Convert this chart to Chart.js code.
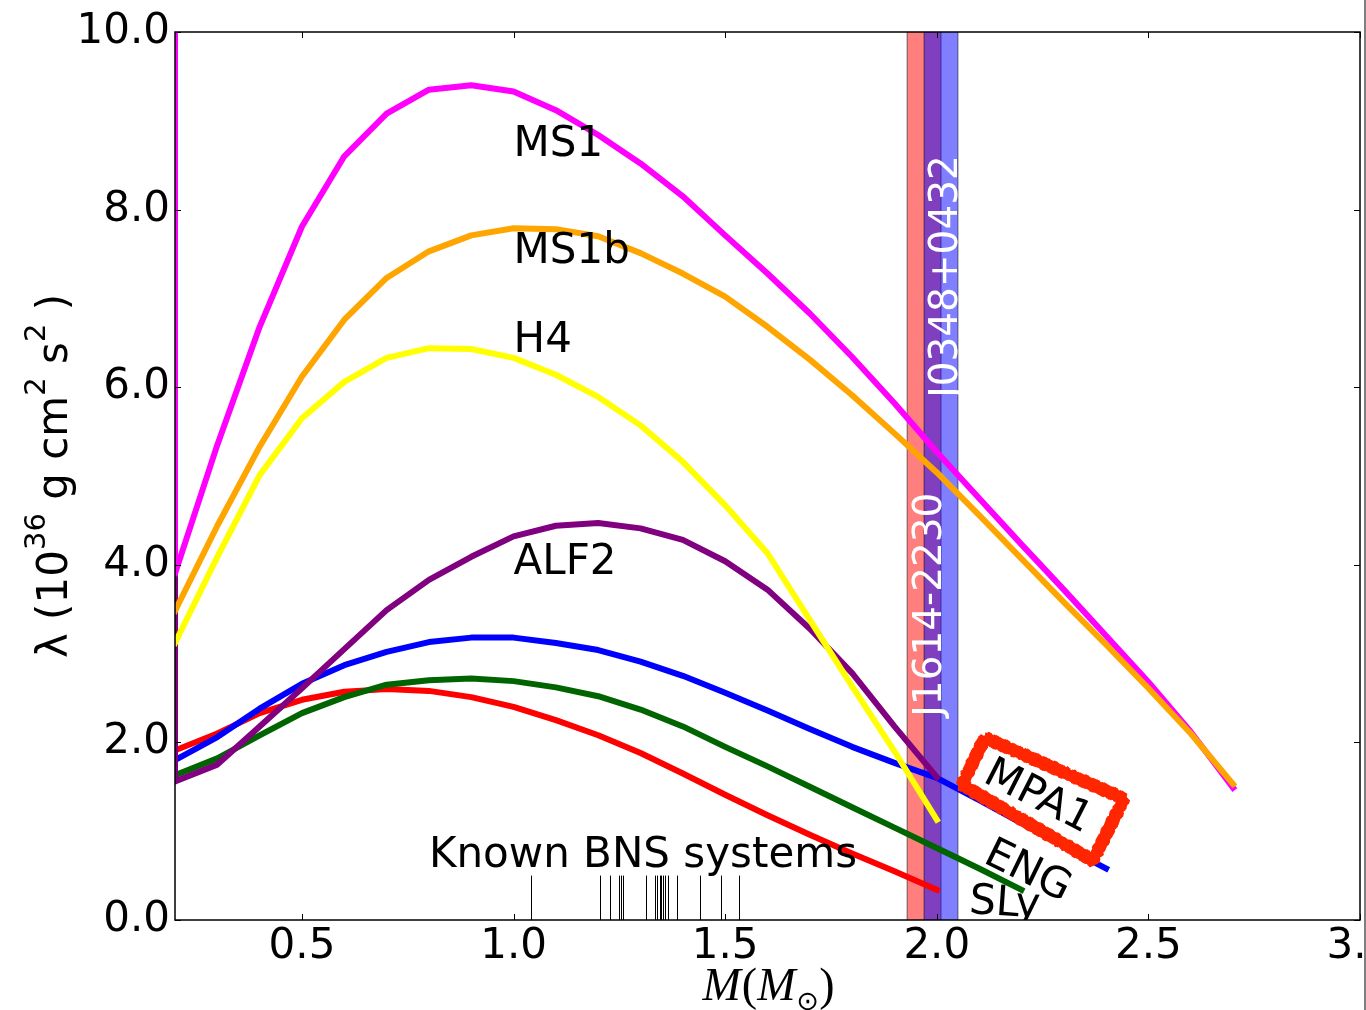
<!DOCTYPE html>
<html>
<head>
<meta charset="utf-8">
<script src="https://cdn.jsdelivr.net/npm/chart.js@4.4.0/dist/chart.umd.min.js"></script>
<style>
  html, body { margin: 0; padding: 0; background: #fff; overflow: hidden; }
</style>
</head>
<body>
<canvas id="tidal" width="1366" height="1010"></canvas>
<script>
// neutron star mass grid (solar masses)
const massGrid = [0.2, 0.3, 0.4, 0.5, 0.6, 0.7, 0.8, 0.9, 1.0, 1.1, 1.2, 1.3, 1.4,
                  1.5, 1.6, 1.7, 1.8, 1.9, 2.0, 2.1, 2.2, 2.3, 2.4, 2.5, 2.6, 2.7];

// tidal deformability lambda (1e36 g cm^2 s^2) per EOS, read along massGrid
const lambdaMS1b = [3.48, 4.44, 5.33, 6.12, 6.76, 7.23, 7.53, 7.71, 7.79, 7.78, 7.70, 7.51, 7.28,
                    7.02, 6.68, 6.31, 5.91, 5.48, 5.04, 4.56, 4.07, 3.58, 3.10, 2.61, 2.10, 1.53];
const lambdaMS1  = [3.90, 5.35, 6.68, 7.81, 8.60, 9.08, 9.35, 9.40, 9.33, 9.12, 8.84, 8.52, 8.15,
                    7.71, 7.28, 6.83, 6.34, 5.82, 5.27, 4.75, 4.23, 3.72, 3.20, 2.68, 2.12, 1.49];
const lambdaH4   = [3.12, 4.09, 5.01, 5.65, 6.06, 6.33, 6.44, 6.43, 6.33, 6.14, 5.89, 5.57, 5.16,
                    4.67, 4.13, 3.38, 2.63, 1.90, 1.13];
const lambdaALF2 = [1.56, 1.75, 2.18, 2.61, 3.05, 3.49, 3.83, 4.09, 4.32, 4.44, 4.47, 4.41, 4.28,
                    4.04, 3.72, 3.28, 2.78, 2.18, 1.61];
const lambdaMPA1 = [1.80, 2.06, 2.38, 2.66, 2.87, 3.02, 3.13, 3.18, 3.18, 3.12, 3.04, 2.91, 2.75,
                    2.56, 2.36, 2.15, 1.95, 1.77, 1.60, 1.35, 1.09, 0.83, 0.58];
const lambdaENG  = [1.63, 1.82, 2.08, 2.33, 2.51, 2.65, 2.70, 2.72, 2.69, 2.62, 2.52, 2.37, 2.18,
                    1.95, 1.73, 1.50, 1.27, 1.04, 0.81, 0.58, 0.34];
const lambdaSLy  = [1.91, 2.10, 2.33, 2.48, 2.57, 2.60, 2.58, 2.51, 2.40, 2.25, 2.08, 1.88, 1.65,
                    1.41, 1.18, 0.96, 0.75, 0.55, 0.34];

// MS1 and ALF2 run off the top of the frame just below 0.2 Msun
const offScaleLambda = 12;

// first entry is drawn on top
const eosNames  = ['MS1b', 'MS1', 'H4', 'ALF2', 'MPA1', 'ENG', 'SLy'];
const eosLambda = [lambdaMS1b, lambdaMS1, lambdaH4, lambdaALF2, lambdaMPA1, lambdaENG, lambdaSLy];
const eosColors = ['#ffa500', '#ff00ff', '#ffff00', '#800080', '#0000ff', '#006400', '#ff0000'];
const eosOffTop = ['MS1', 'ALF2'];

// measured binary neutron star masses
const bnsMasses = [1.04, 1.205, 1.228, 1.248, 1.253, 1.258, 1.313, 1.333, 1.338, 1.345,
                   1.349, 1.354, 1.358, 1.364, 1.386, 1.441, 1.490, 1.532];
const bnsMarkTop = 0.5;

// heavy pulsars, mass and 1-sigma
const pulsarNames = ['J1614-2230', 'J0348+0432'];
const pulsarMass  = [1.97, 2.01];
const pulsarErr   = [0.04, 0.04];
const pulsarFill  = ['rgba(255,0,0,0.5)', 'rgba(0,0,255,0.5)'];

const xTicks = [0.5, 1.0, 1.5, 2.0, 2.5, 3.0];
const yTicks = [0, 2, 4, 6, 8, 10];

Chart.defaults.font.family = 'DejaVu Sans';
Chart.defaults.color = '#000';

const datasets = eosNames.map((name, i) => {
  const pts = eosLambda[i].map((v, j) => ({ x: massGrid[j], y: v }));
  if (eosOffTop.includes(name)) pts.unshift({ x: massGrid[0], y: offScaleLambda });
  return {
    label: name,
    data: pts,
    borderColor: eosColors[i],
    borderWidth: 6,
    pointRadius: 0,
    tension: 0,
    fill: false,
    clip: 0,
    borderJoinStyle: 'round',
    borderCapStyle: 'square'
  };
});

// hand-drawn looking outline through the given corners, wobble is deterministic
function roughOutline(ctx, corners) {
  const c = corners.concat([corners[0]]);
  for (let pass = 0; pass < 14; pass++) {
    ctx.beginPath();
    let first = true;
    for (let s = 0; s < c.length - 1; s++) {
      const [x0, y0] = c[s], [x1, y1] = c[s + 1];
      const len = Math.hypot(x1 - x0, y1 - y0);
      const n = Math.ceil(len / 2);
      const nx = -(y1 - y0) / len, ny = (x1 - x0) / len;
      for (let i = 0; i <= n; i++) {
        const t = i / n;
        const k = s * 97 + i * 13 + pass * 31;
        const off = 3.6 * Math.sin(k * 1.7 + pass * 0.9) + 2.2 * Math.sin(k * 0.37 + pass * 2.1);
        const px = x0 + (x1 - x0) * t + nx * off;
        const py = y0 + (y1 - y0) * t + ny * off;
        if (first) { ctx.moveTo(px, py); first = false; } else ctx.lineTo(px, py);
      }
    }
    ctx.stroke();
  }
}

const decorations = {
  id: 'decorations',
  beforeDatasetsDraw(chart) {
    const { ctx, chartArea: a, scales } = chart;
    const X = v => scales.x.getPixelForValue(v);
    ctx.save();
    pulsarMass.forEach((m, i) => {
      const x0 = X(m - pulsarErr[i]), x1 = X(m + pulsarErr[i]);
      ctx.fillStyle = pulsarFill[i];
      ctx.fillRect(x0, a.top, x1 - x0, a.bottom - a.top);
      ctx.strokeStyle = 'rgba(0,0,0,0.45)';
      ctx.lineWidth = 1.2;
      ctx.beginPath();
      ctx.moveTo(x0, a.top); ctx.lineTo(x0, a.bottom);
      ctx.moveTo(x1, a.top); ctx.lineTo(x1, a.bottom);
      ctx.stroke();
    });
    ctx.restore();
  },
  afterDatasetsDraw(chart) {
    const { ctx, chartArea: a, scales } = chart;
    const X = v => scales.x.getPixelForValue(v);
    const Y = v => scales.y.getPixelForValue(v);
    ctx.save();
    ctx.beginPath();
    ctx.rect(a.left, a.top, a.right - a.left, a.bottom - a.top);
    ctx.clip();

    // known BNS masses
    ctx.strokeStyle = '#000';
    ctx.lineWidth = 1;
    bnsMasses.forEach(m => {
      const px = Math.round(X(m)) + 0.5;
      ctx.beginPath();
      ctx.moveTo(px, Y(0));
      ctx.lineTo(px, Y(bnsMarkTop));
      ctx.stroke();
    });

    ctx.fillStyle = '#000';
    ctx.font = '42px "DejaVu Sans"';
    ctx.textAlign = 'left';
    ctx.textBaseline = 'alphabetic';
    ctx.fillText('MS1', X(1.0), Y(8.6));
    ctx.fillText('MS1b', X(1.0), Y(7.4));
    ctx.fillText('H4', X(1.0), Y(6.4));
    ctx.fillText('ALF2', X(1.0), Y(3.9));
    ctx.fillText('Known BNS systems', X(0.8), Y(0.6));

    // pulsar band labels
    ctx.fillStyle = '#fff';
    ctx.font = '39px "DejaVu Sans"';
    [[2.011, 2.29], [2.048, 5.88]].forEach(([m, l], i) => {
      ctx.save();
      ctx.translate(X(m), Y(l));
      ctx.rotate(-Math.PI / 2);
      ctx.fillText(pulsarNames[i], 0, 0);
      ctx.restore();
    });

    // MPA1 sketch box
    ctx.save();
    ctx.translate(X(2.246), Y(1.40));
    const box = [[-56, -58], [83, 3], [52, 65], [-79, -11]];
    ctx.fillStyle = '#fff';
    ctx.beginPath();
    box.forEach(([bx, by], i) => (i ? ctx.lineTo(bx, by) : ctx.moveTo(bx, by)));
    ctx.closePath();
    ctx.fill();
    ctx.strokeStyle = 'rgb(255,38,0)';
    ctx.lineWidth = 3;
    ctx.lineJoin = 'round';
    roughOutline(ctx, box);
    ctx.rotate(27 * Math.PI / 180);
    ctx.fillStyle = '#000';
    ctx.font = '42px "DejaVu Sans"';
    ctx.textAlign = 'center';
    ctx.textBaseline = 'middle';
    ctx.fillText('MPA1', -2, 3);
    ctx.restore();

    ctx.save();
    ctx.translate(X(2.214), Y(0.54));
    ctx.rotate(26 * Math.PI / 180);
    ctx.fillStyle = '#000';
    ctx.font = '42px "DejaVu Sans"';
    ctx.textAlign = 'center';
    ctx.textBaseline = 'middle';
    ctx.fillText('ENG', 0, 0);
    ctx.restore();

    ctx.save();
    ctx.translate(X(2.075), Y(0.08));
    ctx.rotate(4 * Math.PI / 180);
    ctx.fillStyle = '#000';
    ctx.font = '42px "DejaVu Sans"';
    ctx.textAlign = 'left';
    ctx.textBaseline = 'alphabetic';
    ctx.fillText('SLy', 0, 0);
    ctx.restore();

    ctx.restore();

    // frame and inward ticks
    ctx.save();
    ctx.strokeStyle = '#000';
    ctx.lineWidth = 1.5;
    ctx.strokeRect(a.left, a.top, a.right - a.left, a.bottom - a.top);
    ctx.lineWidth = 1;
    ctx.beginPath();
    xTicks.forEach(v => {
      const px = Math.round(X(v)) + 0.5;
      ctx.moveTo(px, a.bottom); ctx.lineTo(px, a.bottom - 6);
      ctx.moveTo(px, a.top); ctx.lineTo(px, a.top + 6);
    });
    yTicks.forEach(v => {
      const py = Math.round(Y(v)) + 0.5;
      ctx.moveTo(a.left, py); ctx.lineTo(a.left + 6, py);
      ctx.moveTo(a.right, py); ctx.lineTo(a.right - 6, py);
    });
    ctx.stroke();
    ctx.restore();
  },
  afterDraw(chart) {
    const { ctx, chartArea: a } = chart;
    ctx.save();
    ctx.fillStyle = '#000';

    // y axis title with superscripts
    const segs = [['λ (10', 0], ['36', 1], [' g cm', 0], ['2', 1], [' s', 0], ['2', 1], [' )', 0]];
    const big = '42px "DejaVu Sans"', small = '29px "DejaVu Sans"';
    let total = 0;
    segs.forEach(([t, sup]) => { ctx.font = sup ? small : big; total += ctx.measureText(t).width; });
    ctx.translate(67, (a.top + a.bottom) / 2);
    ctx.rotate(-Math.PI / 2);
    ctx.textBaseline = 'alphabetic';
    ctx.textAlign = 'left';
    let cx = -total / 2;
    segs.forEach(([t, sup]) => {
      ctx.font = sup ? small : big;
      ctx.fillText(t, cx, sup ? -22 : 0);
      cx += ctx.measureText(t).width;
    });
    ctx.restore();

    // x axis title M(M_sun)
    ctx.save();
    ctx.fillStyle = '#000';
    ctx.textBaseline = 'alphabetic';
    ctx.textAlign = 'left';
    const xs = [['M', 'italic 46px "Liberation Serif"', 0], ['(', '46px "Liberation Serif"', 0],
                ['M', 'italic 46px "Liberation Serif"', 0], ['\u2299', '27px "DejaVu Sans"', 10],
                [')', '46px "Liberation Serif"', 0]];
    let w = 0;
    xs.forEach(([t, f]) => { ctx.font = f; w += ctx.measureText(t).width; });
    let px = (a.left + a.right) / 2 - w / 2;
    xs.forEach(([t, f, dy]) => {
      ctx.font = f;
      ctx.fillText(t, px, 1000 + dy);
      px += ctx.measureText(t).width + (t === 'M' ? 1 : 0);
    });

    // figure edge on the right
    ctx.strokeStyle = '#555';
    ctx.lineWidth = 1.5;
    ctx.beginPath();
    ctx.moveTo(1365, 0); ctx.lineTo(1365, 1010);
    ctx.stroke();
    ctx.restore();
  }
};

new Chart(document.getElementById('tidal').getContext('2d'), {
  type: 'line',
  data: { datasets },
  options: {
    responsive: false,
    animation: false,
    devicePixelRatio: 1,
    layout: { padding: { top: 32, right: 6, bottom: 0, left: 0 } },
    plugins: { legend: { display: false }, tooltip: { enabled: false } },
    scales: {
      x: {
        type: 'linear',
        min: 0.2,
        max: 3.0,
        grid: { display: false, drawTicks: false },
        border: { display: false },
        ticks: {
          font: { size: 42 },
          color: '#000',
          padding: 2,
          maxRotation: 0,
          autoSkip: false,
          callback: v => Number(v).toFixed(1)
        },
        afterBuildTicks: s => { s.ticks = xTicks.map(v => ({ value: v })); },
        afterFit: s => { s.height = 90; s.paddingLeft = 0; s.paddingRight = 0; }
      },
      y: {
        type: 'linear',
        min: 0,
        max: 10,
        grid: { display: false, drawTicks: false },
        border: { display: false },
        ticks: {
          font: { size: 42 },
          color: '#000',
          padding: 5,
          autoSkip: false,
          callback: v => Number(v).toFixed(1)
        },
        afterBuildTicks: s => { s.ticks = yTicks.map(v => ({ value: v })); },
        afterFit: s => { s.width = 175; s.paddingTop = 0; s.paddingBottom = 0; }
      }
    }
  },
  plugins: [decorations]
});
</script>
</body>
</html>
